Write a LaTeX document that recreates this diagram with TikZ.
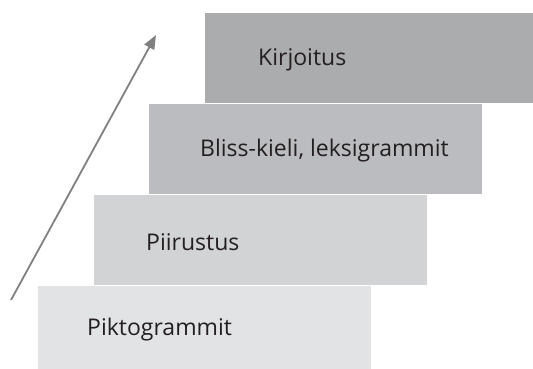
\documentclass[tikz,border=0pt]{standalone}
\usepackage{fontspec}
\setmainfont{Open Sans}
\usepackage{tikz}
\usetikzlibrary{arrows.meta}

\definecolor{stepA}{HTML}{E2E3E5}
\definecolor{stepB}{HTML}{D2D3D5}
\definecolor{stepC}{HTML}{BBBCBF}
\definecolor{stepD}{HTML}{ABACAE}
\definecolor{inktext}{HTML}{231F20}
\definecolor{arrowgray}{HTML}{808080}

\begin{document}
\begin{tikzpicture}[x=1pt,y=1pt,
  stair/.style={anchor=south west,inner sep=0pt,minimum height=90pt},
  stairtext/.style={anchor=west,inner sep=0pt,text=inktext,font=\fontsize{23}{27}\selectfont}]
\pgfmathsetmacro{\w}{333}
\pgfmathsetmacro{\h}{91}
\useasboundingbox (0,0) rectangle (533,369);
\node[stair,fill=stepA,minimum height=83pt,minimum width=\w pt] (s1) at (38,0) {};
\node[stair,fill=stepB,minimum width=\w pt] (s2) at (94,84) {};
\node[stair,fill=stepC,minimum width=\w pt] (s3) at (149,84+\h) {};
\node[stair,fill=stepD,minimum width=328pt] (s4) at (205,84+2*\h) {};
\node[stairtext] (t1) at ([xshift=49pt,yshift=-2pt]s1.west) {Piktogrammit};
\node[stairtext] (t2) at ([xshift=52pt,yshift=-2pt]s2.west) {Piirustus};
\node[stairtext] (t3) at ([xshift=51pt,yshift=-2pt]s3.west) {Bliss-kieli, leksigrammit};
\node[stairtext] (t4) at ([xshift=53pt,yshift=-2pt]s4.west) {Kirjoitus};
\coordinate (from) at (11,69);
\coordinate (to) at (156,334);
\draw[arrowgray,line width=1.8pt,-{Triangle[length=14pt,width=11pt]}] (from) -- (to);
\end{tikzpicture}
\end{document}
